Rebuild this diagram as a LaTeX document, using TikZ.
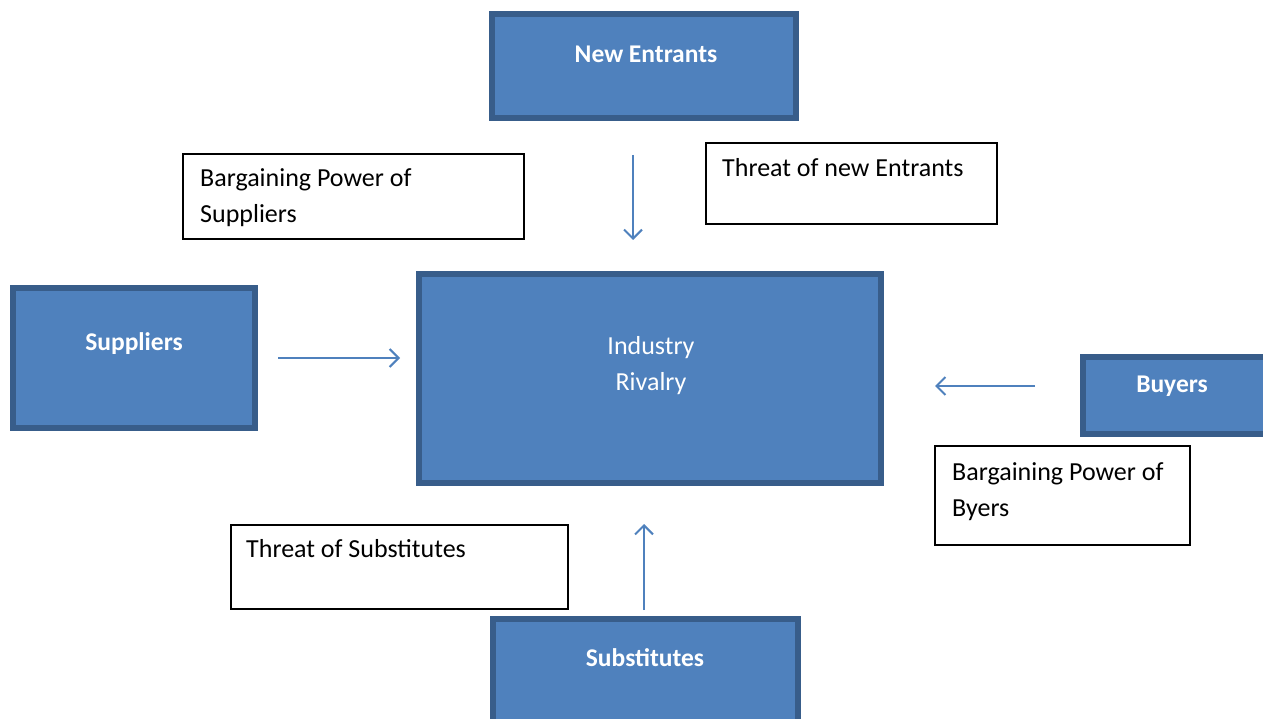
\documentclass[tikz,border=0pt]{standalone}
\usepackage{fontspec}
\setmainfont{Carlito}
\usetikzlibrary{arrows.meta}
\definecolor{boxfill}{HTML}{4F81BD}
\definecolor{boxline}{HTML}{385D8A}
\definecolor{arrowc}{HTML}{4F81BD}
\begin{document}
\begin{tikzpicture}[x=1pt,y=-1pt,
  force/.style={fill=boxfill,draw=boxline,line width=6pt},
  note/.style={draw=black,line width=1.8pt,fill=white},
  btext/.style={text=white,font=\fontsize{25.5}{36}\selectfont\bfseries,inner sep=0pt},
  ntext/.style={text=black,font=\fontsize{26}{36}\selectfont,inner sep=0pt,anchor=base west,align=left},
  arr/.style={draw=arrowc,line width=2pt,-{Straight Barb[length=9pt,width=18pt,line width=2pt]}}
]
\useasboundingbox (0,0) rectangle (1263,719);
% blue boxes
\draw[force] (492,14) rectangle (796,118);
\draw[force] (419,274) rectangle (881,483);
\draw[force] (13,288) rectangle (255,428);
\draw[force] (1083,357) rectangle (1266,434);
\draw[force] (493,619) rectangle (798,730);
\node[btext] (tne) at (646,54) {New Entrants};
\node[btext,align=center,font=\fontsize{26}{36}\selectfont] (tir) at (651,366) {Industry\\Rivalry};
\node[btext] (tsu) at (134,344) {Suppliers};
\node[btext] (tbu) at (1172,386) {Buyers};
\node[btext] (tsb) at (645,658) {Substitutes};
% notes
\draw[note] (183,154) rectangle (524,239);
\draw[note] (706,143) rectangle (997,224);
\draw[note] (935,446) rectangle (1190,545);
\draw[note] (231,525) rectangle (568,609);
\node[ntext] (n1) at (200,223) {Bargaining Power of\\Suppliers};
\node[ntext] (n2) at (722,177) {Threat of new Entrants};
\node[ntext] (n3) at (952,516) {Bargaining Power of\\Byers};
\node[ntext] (n4) at (246,557) {Threat of Substitutes};
% arrows
\coordinate (a1s) at (633,155); \coordinate (a1e) at (633,240);
\coordinate (a2s) at (278,358); \coordinate (a2e) at (400,358);
\coordinate (a3s) at (1035,386); \coordinate (a3e) at (935,386);
\coordinate (a4s) at (644,610); \coordinate (a4e) at (644,524);
\draw[arr] (a1s) -- (a1e);
\draw[arr] (a2s) -- (a2e);
\draw[arr] (a3s) -- (a3e);
\draw[arr] (a4s) -- (a4e);
\end{tikzpicture}
\end{document}
